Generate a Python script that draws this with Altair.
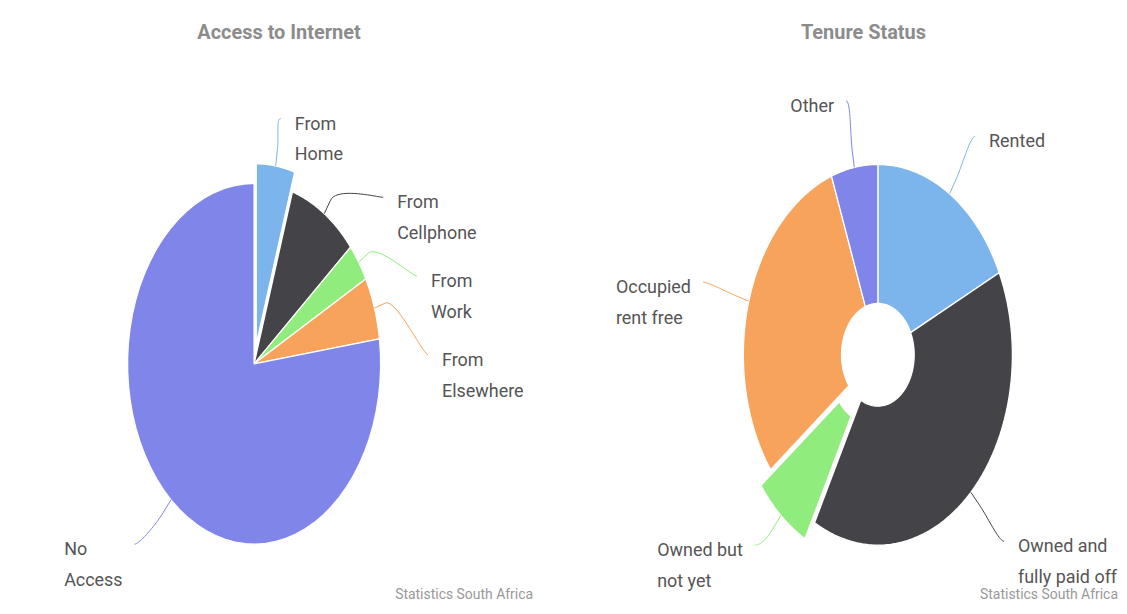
import altair as alt
import pandas as pd

# ---------------- data ----------------
internet_title = "Access to Internet"
internet_categories = ["From Home", "From Cellphone", "From Work", "From Elsewhere", "No Access"]
internet_share = [4.9, 8.9, 3.4, 5.6, 77.2]
internet_sliced = [1, 0, 0, 0, 0]
internet_label_lines = [["From", "Home"], ["From", "Cellphone"], ["From", "Work"],
                        ["From", "Elsewhere"], ["No", "Access"]]

tenure_title = "Tenure Status"
tenure_categories = ["Rented", "Owned and fully paid off", "Owned but not yet paid off",
                     "Occupied rent free", "Other"]
tenure_share = [17.9, 39.9, 6.9, 29.7, 5.6]
tenure_sliced = [0, 0, 1, 0, 0]
tenure_label_lines = [["Rented"], ["Owned and", "fully paid off"], ["Owned but", "not yet", "paid off"],
                      ["Occupied", "rent free"], ["Other"]]

credit_text = "Statistics South Africa"
palette = ["#7cb5ec", "#434348", "#90ed7d", "#f7a35c", "#8085e9"]

# ---------------- style / layout ----------------
FONT = "Roboto"
W1, W2, H = 556, 559, 554
PAD_TOP = 14
TITLE_SIZE = 20
TITLE_OFFSET = 4
PLOT_TOP = 8 + PAD_TOP + TITLE_SIZE + TITLE_OFFSET   # page y of plot area top
LABEL_PX = 68          # label ring distance beyond pie edge, px
SLICE_OFF = 0.11       # sliced offset (in pie radii)
GAP_PX = 79            # min vertical distance between labels
PAD_RIGHT_PX = 14      # gap connector end -> text (right-hand labels)
PAD_LEFT_PX = 12       # gap connector end -> text (left-hand labels)
LABEL_SIZE = 18
M = 60                 # arc resolution

# approximate Roboto advance widths (em) used to left-align labels on the left side
ROBOTO_EM = {" ": 0.248, "a": 0.544, "b": 0.560, "c": 0.523, "d": 0.562, "e": 0.529, "f": 0.347,
             "h": 0.551, "i": 0.243, "l": 0.243, "n": 0.552, "o": 0.570, "p": 0.560, "r": 0.338,
             "s": 0.516, "t": 0.327, "u": 0.551, "w": 0.751, "y": 0.473, "k": 0.507, "m": 0.877,
             "O": 0.688, "N": 0.713, "A": 0.653, "C": 0.652, "H": 0.713, "E": 0.568, "W": 0.887,
             "F": 0.554, "R": 0.615, "S": 0.593}


def text_px(s):
    return sum(ROBOTO_EM.get(ch, 0.55) for ch in s) * LABEL_SIZE


def panel(title, cats, share, sliced, lines, W, cx_px, cy_page, rx, ry, inner, credit_x, title_dx):
    df = pd.DataFrame({
        "category": cats,
        "share": share,
        "sliced": sliced,
        "label": ["\n".join(l) for l in lines],
        "tw": [max(text_px(s) for s in l) for l in lines],
        "idx": list(range(len(cats))),
    })
    cx = cx_px
    cy = cy_page - PLOT_TOP
    xscale = alt.Scale(domain=[-cx / rx, (W - cx) / rx], nice=False, zero=False)
    yscale = alt.Scale(domain=[-(H - cy) / ry, cy / ry], nice=False, zero=False)
    cscale = alt.Scale(domain=cats, range=palette)
    gap = GAP_PX / ry
    lr = (ry + LABEL_PX) / ry

    base = (
        alt.Chart(df)
        .transform_joinaggregate(total="sum(share)")
        .transform_window(cum="sum(share)", sort=[alt.SortField("idx")], frame=[None, 0])
        .transform_calculate(
            a0="2*PI*(datum.cum - datum.share)/datum.total",
            a1="2*PI*datum.cum/datum.total",
        )
        .transform_calculate(am="(datum.a0 + datum.a1)/2")
        .transform_calculate(
            ox=f"datum.sliced ? {SLICE_OFF}*sin(datum.am) : 0",
            oy=f"datum.sliced ? {SLICE_OFF}*cos(datum.am) : 0",
        )
    )

    slices = (
        base.transform_calculate(step=f"sequence(0, {2 * M + 3})")
        .transform_flatten(["step"])
        .transform_calculate(
            ang=(f"datum.step <= {M} ? datum.a0 + (datum.a1 - datum.a0)*datum.step/{M} : "
                 f"(datum.step <= {2 * M + 1} ? datum.a1 - (datum.a1 - datum.a0)*(datum.step - {M + 1})/{M} : datum.a0)"),
            rad=f"(datum.step <= {M} || datum.step > {2 * M + 1}) ? 1 : {inner}",
        )
        .transform_calculate(
            px="datum.ox + datum.rad*sin(datum.ang)",
            py="datum.oy + datum.rad*cos(datum.ang)",
        )
        .mark_line(filled=True, stroke="white", strokeWidth=1.3, strokeJoin="round")
        .encode(
            x=alt.X("px:Q", scale=xscale, axis=None),
            y=alt.Y("py:Q", scale=yscale, axis=None),
            order=alt.Order("step:Q"),
            color=alt.Color("category:N", scale=cscale, legend=None),
            detail="category:N",
        )
    )

    # Highcharts-like label layout: natural position on a ring, pushed down to avoid
    # overlaps, kept above the bottom of the pie
    lab = (
        base.transform_calculate(
            side="sin(datum.am) >= 0 ? 1 : -1",
            ny=f"{lr}*cos(datum.am)",
        )
        .transform_window(k="row_number()", groupby=["side"],
                          sort=[alt.SortField("ny", order="descending")])
        .transform_calculate(z=f"datum.ny + (datum.k - 1)*{gap}")
        .transform_window(cz="min(z)", groupby=["side"],
                          sort=[alt.SortField("ny", order="descending")], frame=[None, 0])
        .transform_calculate(yl=f"max(-1, datum.cz - (datum.k - 1)*{gap})")
        .transform_calculate(xl=f"datum.side*sqrt(max(0, {lr * lr} - datum.yl*datum.yl))")
    )

    conns = (
        lab.transform_calculate(
            ex="datum.ox + sin(datum.am)", ey="datum.oy + cos(datum.am)",
            bx="datum.ox + 1.09*sin(datum.am)", by="datum.oy + 1.09*cos(datum.am)",
            qx2="datum.ox + 1.18*sin(datum.am)", qy2="datum.oy + 1.18*cos(datum.am)",
            qx1=f"datum.xl - datum.side*{5 / rx}",
        )
        .transform_calculate(step="sequence(0, 22)")
        .transform_flatten(["step"])
        .transform_calculate(t="min(datum.step, 20)/20")
        .transform_calculate(
            cxv=("datum.step > 20 ? datum.ex : pow(1-datum.t,3)*datum.xl + 3*pow(1-datum.t,2)*datum.t*datum.qx1"
                 " + 3*(1-datum.t)*datum.t*datum.t*datum.qx2 + pow(datum.t,3)*datum.bx"),
            cyv=("datum.step > 20 ? datum.ey : pow(1-datum.t,3)*datum.yl + 3*pow(1-datum.t,2)*datum.t*datum.yl"
                 " + 3*(1-datum.t)*datum.t*datum.t*datum.qy2 + pow(datum.t,3)*datum.by"),
        )
        .mark_line(strokeWidth=1)
        .encode(
            x=alt.X("cxv:Q", scale=xscale, axis=None),
            y=alt.Y("cyv:Q", scale=yscale, axis=None),
            order=alt.Order("step:Q"),
            color=alt.Color("category:N", scale=cscale, legend=None),
            detail="category:N",
        )
    )

    labels = (
        lab.transform_calculate(
            tx=(f"datum.side > 0 ? datum.xl + {PAD_RIGHT_PX / rx} : "
                f"datum.xl - ({PAD_LEFT_PX} + datum.tw)/{rx}")
        )
        .mark_text(align="left", baseline="top", dy=-3, lineBreak="\n", lineHeight=31,
                   font=FONT, fontSize=LABEL_SIZE, color="#555555", clip=True)
        .encode(
            x=alt.X("tx:Q", scale=xscale, axis=None),
            y=alt.Y("yl:Q", scale=yscale, axis=None),
            text="label:N",
        )
    )

    credit = (
        alt.Chart(pd.DataFrame({"credit": [credit_text]}))
        .mark_text(align="right", baseline="alphabetic", font=FONT, fontSize=14, color="#999999")
        .encode(x=alt.value(credit_x), y=alt.value(H), text="credit:N")
    )

    return alt.layer(slices, conns, labels, credit).properties(
        width=W, height=H,
        title=alt.TitleParams(title, anchor="middle", font=FONT, fontSize=TITLE_SIZE, fontWeight="bold",
                              color="#8c8c8c", offset=TITLE_OFFSET, dx=title_dx),
    )


left = panel(internet_title, internet_categories, internet_share, internet_sliced, internet_label_lines,
             W1, 255 - 8, 364, 127, 181, 0, 527, -6)
right = panel(tenure_title, tenure_categories, tenure_share, tenure_sliced, tenure_label_lines,
              W2, 881 - 8 - W1, 355, 135, 191, 0.27, W2 - 1, 23)

chart = (
    alt.hconcat(left, right, spacing=0)
    .properties(padding={"left": 0, "right": 0, "top": PAD_TOP, "bottom": 0})
    .configure_view(strokeWidth=0)
)

chart.save("out.html", embed_options={"renderer": "svg", "actions": False})
